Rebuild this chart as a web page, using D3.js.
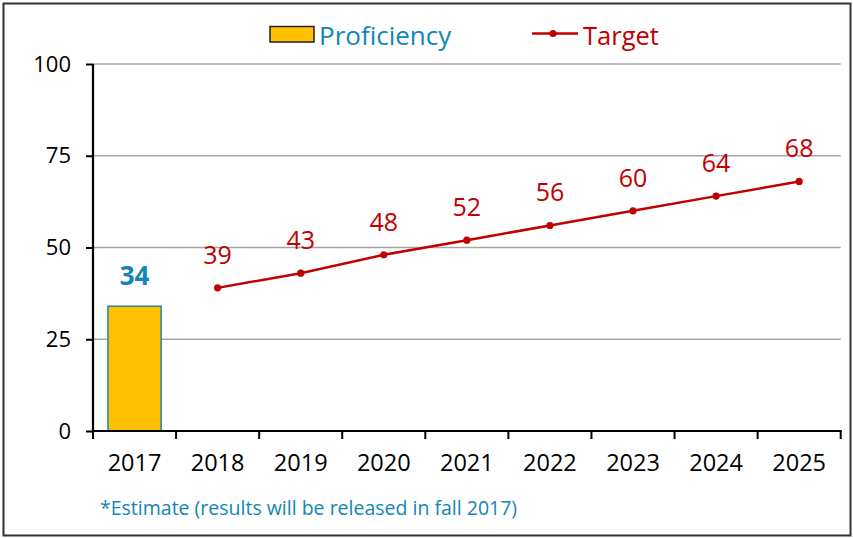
<!DOCTYPE html>
<html>
<head>
<meta charset="utf-8">
<script src="https://cdn.jsdelivr.net/npm/d3@7"></script>
<style>
    body { margin: 0; background: #fff; }
    text { font-family: 'Open Sans', sans-serif; }
</style>
</head>
<body>
<div id="chart"></div>
<script>
// Data
const years = ['2017', '2018', '2019', '2020', '2021', '2022', '2023', '2024', '2025'];
const proficiencyYears = ['2017'];
const proficiencyValues = [34];
const targetYears = ['2018', '2019', '2020', '2021', '2022', '2023', '2024', '2025'];
const targetValues = [39, 43, 48, 52, 56, 60, 64, 68];
const yTicks = [0, 25, 50, 75, 100];
const footnote = '*Estimate (results will be released in fall 2017)';

const teal = '#1286b4';
const red = '#c00000';
const gold = '#ffc000';

function draw() {
    // Dimensions
    let dimensions = {
        width: 853,
        height: 538,
        margins: { top: 64, right: 12.3, bottom: 107, left: 93 },
    };

    dimensions.containerWidth = dimensions.width - dimensions.margins.left - dimensions.margins.right;
    dimensions.containerHeight = dimensions.height - dimensions.margins.top - dimensions.margins.bottom;

    const svg = d3.select('#chart')
        .append('svg')
        .attr('width', dimensions.width)
        .attr('height', dimensions.height);

    // outer frame
    svg.append('rect')
        .attr('x', 3.5)
        .attr('y', 3.5)
        .attr('width', 847)
        .attr('height', 532)
        .attr('fill', 'none')
        .attr('stroke', '#333')
        .attr('stroke-width', 2);

    const container = svg.append('g')
        .attr('transform', `translate(${dimensions.margins.left}, ${dimensions.margins.top})`);

    // Scales
    const xScale = d3.scaleBand()
        .domain(years)
        .range([0, dimensions.containerWidth])
        .paddingInner(0.36)
        .paddingOuter(0.18);

    const yScale = d3.scaleLinear()
        .domain([0, 100])
        .range([dimensions.containerHeight, 0]);

    const center = d => xScale(d) + xScale.bandwidth() / 2;

    // Gridlines
    container.append('g')
        .selectAll('line')
        .data(yTicks.filter(d => d > 0))
        .join('line')
        .attr('x1', 0)
        .attr('x2', dimensions.containerWidth)
        .attr('y1', d => yScale(d))
        .attr('y2', d => yScale(d))
        .attr('stroke', '#a6a6a6')
        .attr('stroke-width', 1.5);

    // Bars
    const bars = proficiencyYears.map((d, i) => ({ year: d, value: proficiencyValues[i] }));
    container.append('g')
        .selectAll('rect')
        .data(bars)
        .join('rect')
        .attr('x', d => xScale(d.year))
        .attr('y', d => yScale(d.value))
        .attr('width', xScale.bandwidth())
        .attr('height', d => yScale(0) - yScale(d.value))
        .attr('fill', gold)
        .attr('stroke', '#1f87a8')
        .attr('stroke-width', 1.5);

    container.append('g')
        .selectAll('text')
        .data(bars)
        .join('text')
        .attr('x', d => center(d.year))
        .attr('y', d => yScale(d.value) - 21)
        .attr('text-anchor', 'middle')
        .attr('fill', teal)
        .style('font-size', '26px')
        .style('font-weight', 'bold')
        .text(d => d.value);

    // Target line
    const targets = targetYears.map((d, i) => ({ year: d, value: targetValues[i] }));
    const lineGenerator = d3.line()
        .x(d => center(d.year))
        .y(d => yScale(d.value));

    container.append('path')
        .datum(targets)
        .attr('d', lineGenerator)
        .attr('fill', 'none')
        .attr('stroke', red)
        .attr('stroke-width', 2.5);

    container.append('g')
        .selectAll('circle')
        .data(targets)
        .join('circle')
        .attr('cx', d => center(d.year))
        .attr('cy', d => yScale(d.value))
        .attr('r', 3.6)
        .attr('fill', red);

    container.append('g')
        .selectAll('text')
        .data(targets)
        .join('text')
        .attr('x', d => center(d.year))
        .attr('y', d => yScale(d.value) - 24)
        .attr('text-anchor', 'middle')
        .attr('fill', red)
        .style('font-size', '25px')
        .text(d => d.value);

    // Axes
    const yAxis = d3.axisLeft(yScale)
        .tickValues(yTicks)
        .tickSize(7)
        .tickPadding(15);

    const yAxisGroup = container.append('g').call(yAxis);
    yAxisGroup.select('.domain').remove();
    yAxisGroup.selectAll('.tick line').attr('stroke', '#000').attr('stroke-width', 2);
    yAxisGroup.selectAll('.tick text')
        .style('font-size', '22px')
        .style('font-family', "'Open Sans', sans-serif")
        .attr('fill', '#000');

    const xAxis = d3.axisBottom(xScale)
        .tickSize(0)
        .tickPadding(23);

    const xAxisGroup = container.append('g')
        .attr('transform', `translate(0, ${dimensions.containerHeight})`)
        .call(xAxis);
    xAxisGroup.select('.domain').remove();
    xAxisGroup.selectAll('.tick text')
        .style('font-size', '23.5px')
        .style('font-family', "'Open Sans', sans-serif")
        .attr('fill', '#000');

    // category boundary ticks
    const step = xScale.step();
    xAxisGroup.append('g')
        .selectAll('line')
        .data(d3.range(years.length + 1))
        .join('line')
        .attr('x1', i => i * step)
        .attr('x2', i => i * step)
        .attr('y1', 0)
        .attr('y2', 8)
        .attr('stroke', '#000')
        .attr('stroke-width', 2);

    // axis lines
    container.append('line')
        .attr('x1', 0).attr('x2', 0)
        .attr('y1', 0).attr('y2', dimensions.containerHeight)
        .attr('stroke', '#000')
        .attr('stroke-width', 2.2);

    container.append('line')
        .attr('x1', -1).attr('x2', dimensions.containerWidth + 1)
        .attr('y1', dimensions.containerHeight).attr('y2', dimensions.containerHeight)
        .attr('stroke', '#000')
        .attr('stroke-width', 2.2);

    // Legend
    const legend = svg.append('g');
    legend.append('rect')
        .attr('x', 270)
        .attr('y', 26.5)
        .attr('width', 44)
        .attr('height', 15.5)
        .attr('fill', gold)
        .attr('stroke', '#222')
        .attr('stroke-width', 1.5);
    legend.append('text')
        .attr('x', 319)
        .attr('y', 45)
        .attr('fill', teal)
        .style('font-size', '26px')
        .text('Proficiency');

    legend.append('line')
        .attr('x1', 532).attr('x2', 578)
        .attr('y1', 33.5).attr('y2', 33.5)
        .attr('stroke', red)
        .attr('stroke-width', 2.5);
    legend.append('circle')
        .attr('cx', 553)
        .attr('cy', 33.5)
        .attr('r', 3.6)
        .attr('fill', red);
    legend.append('text')
        .attr('x', 583)
        .attr('y', 45)
        .attr('fill', red)
        .style('font-size', '25.5px')
        .text('Target');

    // Footnote
    svg.append('text')
        .attr('x', 100)
        .attr('y', 515)
        .attr('fill', teal)
        .style('font-size', '19.5px')
        .text(footnote);
}

draw();
</script>
</body>
</html>
